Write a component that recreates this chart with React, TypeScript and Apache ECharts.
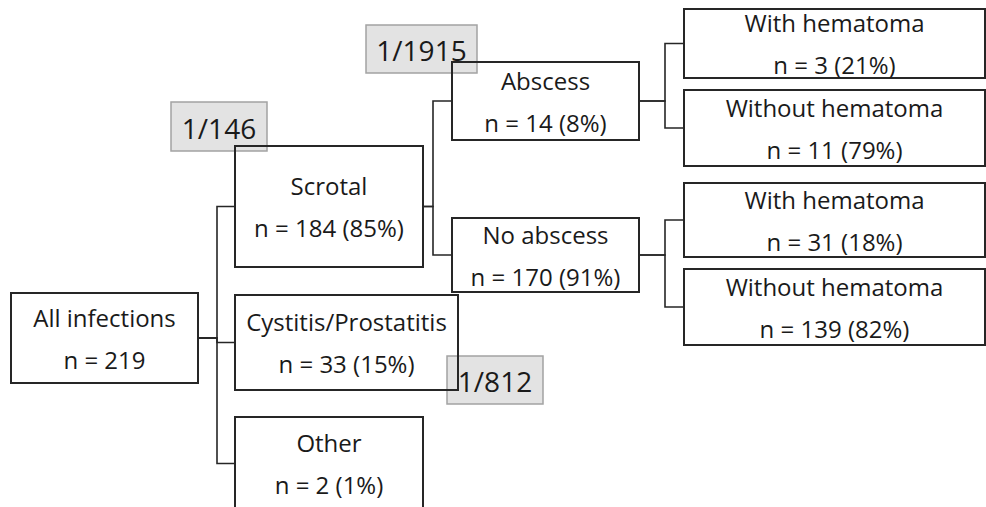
import { useEffect, useRef } from 'react';
import * as echarts from 'echarts';

// ---- data ----
const nodeTitles = [
  'All infections',
  'Scrotal',
  'Cystitis/Prostatitis',
  'Other',
  'Abscess',
  'No abscess',
  'With hematoma',
  'Without hematoma',
  'With hematoma',
  'Without hematoma',
];
const nodeCounts = [219, 184, 33, 2, 14, 170, 3, 11, 31, 139];
const nodePercents: (number | null)[] = [null, 85, 15, 1, 8, 91, 21, 79, 18, 82];
const nodeParents = [-1, 0, 0, 0, 1, 1, 4, 4, 5, 5];
const incidenceLabels = ['1/146', '1/1915', '1/812'];
const incidenceNodes = [1, 4, 2];

// ---- layout (pixel-like diagram units) ----
const W = 986;
const H = 507;
const boxLayout: number[][] = [
  [11, 293, 198, 383],
  [235, 146, 423, 267],
  [235, 295, 458, 390],
  [235, 417, 423, 510],
  [452, 62, 639, 140],
  [452, 218, 639, 292],
  [684, 9, 985, 78],
  [684, 90, 985, 166],
  [684, 183, 985, 257],
  [684, 269, 985, 345],
];
const junctionX: Record<number, number> = { 0: 217, 1: 433, 4: 665, 5: 665 };
const labelLayout: number[][] = [
  [171, 102, 267, 151],
  [366, 25, 477, 73],
  [447, 356, 543, 404],
];

const FONT = '"Open Sans", Lato, sans-serif';
const LINE = '#262626';

export default function App() {
  const ref = useRef<HTMLDivElement>(null);
  useEffect(() => {
    if (!ref.current) return;
    const chart = echarts.init(ref.current, undefined, { renderer: 'svg' });
    const nodeIdx = nodeTitles.map((_, i) => [i]);
    const edgeIdx = nodeParents.map((p, i) => [i]).filter((d) => nodeParents[d[0]] >= 0);
    const labelIdx = incidenceLabels.map((_, i) => [i]);

    chart.setOption({
      animation: false,
      backgroundColor: '#ffffff',
      grid: { left: 0, right: 0, top: 0, bottom: 0 },
      xAxis: { type: 'value', min: 0, max: W, show: false },
      yAxis: { type: 'value', min: 0, max: H, inverse: true, show: false },
      series: [
        {
          type: 'custom',
          name: 'incidence',
          clip: false,
          z: 1,
          data: labelIdx,
          renderItem: (params: any, api: any) => {
            const i = api.value(0);
            const [x0, y0, x1, y1] = labelLayout[i];
            const p0 = api.coord([x0, y0]);
            const p1 = api.coord([x1, y1]);
            return {
              type: 'group',
              children: [
                {
                  type: 'rect',
                  shape: { x: p0[0], y: p0[1], width: p1[0] - p0[0], height: p1[1] - p0[1] },
                  style: { fill: '#e3e3e3', stroke: '#a3a3a3', lineWidth: 1.5 },
                },
                {
                  type: 'text',
                  style: {
                    text: incidenceLabels[i],
                    x: (p0[0] + p1[0]) / 2,
                    y: (p0[1] + p1[1]) / 2 + 1,
                    align: 'center',
                    verticalAlign: 'middle',
                    fontSize: 28,
                    fontFamily: FONT,
                    fill: '#1a1a1a',
                  },
                },
              ],
            };
          },
        },
        {
          type: 'custom',
          name: 'edges',
          clip: false,
          z: 2,
          data: edgeIdx,
          renderItem: (params: any, api: any) => {
            const c = api.value(0);
            const p = nodeParents[c];
            const pb = boxLayout[p];
            const cb = boxLayout[c];
            const jx = junctionX[p];
            const py = (pb[1] + pb[3]) / 2;
            const cy = (cb[1] + cb[3]) / 2;
            const pts = [
              api.coord([pb[2], py]),
              api.coord([jx, py]),
              api.coord([jx, cy]),
              api.coord([cb[0], cy]),
            ];
            return {
              type: 'polyline',
              shape: { points: pts },
              style: { fill: 'none', stroke: LINE, lineWidth: 1.6 },
            };
          },
        },
        {
          type: 'custom',
          name: 'nodes',
          clip: false,
          z: 3,
          data: nodeIdx,
          renderItem: (params: any, api: any) => {
            const i = api.value(0);
            const [x0, y0, x1, y1] = boxLayout[i];
            const p0 = api.coord([x0, y0]);
            const p1 = api.coord([x1, y1]);
            const cx = (p0[0] + p1[0]) / 2;
            const cy = (p0[1] + p1[1]) / 2;
            const pct = nodePercents[i];
            const line2 = pct == null ? `n = ${nodeCounts[i]}` : `n = ${nodeCounts[i]} (${pct}%)`;
            const txt = (t: string, y: number) => ({
              type: 'text',
              style: {
                text: t,
                x: cx,
                y,
                align: 'center',
                verticalAlign: 'middle',
                fontSize: 24,
                fontFamily: FONT,
                fill: '#1a1a1a',
              },
            });
            return {
              type: 'group',
              children: [
                {
                  type: 'rect',
                  shape: { x: p0[0], y: p0[1], width: p1[0] - p0[0], height: p1[1] - p0[1] },
                  style: { fill: 'none', stroke: LINE, lineWidth: 2 },
                },
                txt(nodeTitles[i], cy - 21),
                txt(line2, cy + 21),
              ],
            };
          },
        },
      ],
    });
    return () => chart.dispose();
  }, []);
  return (
    <div
      ref={ref}
      style={{ position: 'fixed', left: 0, top: 0, width: W, height: H, background: '#fff' }}
    />
  );
}
